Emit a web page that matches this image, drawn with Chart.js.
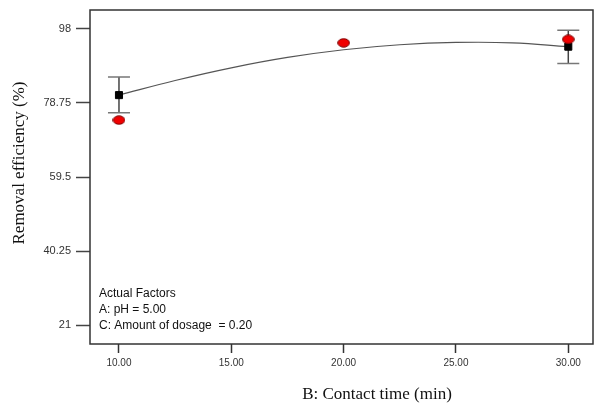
<!DOCTYPE html>
<html lang="en">
<head>
  <meta charset="UTF-8">
  <title>Removal efficiency vs contact time</title>
  <script src="https://cdn.jsdelivr.net/npm/chart.js"></script>
  <style>
    html, body { margin: 0; padding: 0; background: #fff; }
    #wrap { width: 594px; height: 404px; position: relative; }
  </style>
</head>
<body>
  <div id="wrap"><canvas id="chart" width="594" height="404"></canvas></div>
  <script>
    // fitted curve, every 2.5 min
    const curveX = [10, 12.5, 15, 17.5, 20, 22.5, 25, 27.5, 30];
    const curveY = [80.8, 84.6, 87.9, 90.6, 92.6, 93.9, 94.5, 94.4, 93.4];
    // predicted design points with LSD bars
    const predX = [10, 30];
    const predY = [80.8, 93.4];
    const barLow = [76.2, 89.0];
    const barHigh = [85.5, 97.7];
    // actual observations
    const actualX = [10, 20, 30];
    const actualY = [74.3, 94.4, 95.3];
    const yTicks = [21, 40.25, 59.5, 78.75, 98];
    const xTicks = [10, 15, 20, 25, 30];
    const factorLines = ['Actual Factors', 'A: pH = 5.00', 'C: Amount of dosage  = 0.20'];

    const pts = (xs, ys) => xs.map((x, i) => ({ x: x, y: ys[i] }));

    // flattened red dot like the original
    const dot = document.createElement('canvas');
    dot.width = 13; dot.height = 10;
    (function () {
      const c = dot.getContext('2d');
      c.fillStyle = '#f00000';
      c.strokeStyle = '#700';
      c.lineWidth = 1;
      c.beginPath();
      c.ellipse(6.5, 5, 5.8, 4.2, 0, 0, Math.PI * 2);
      c.fill();
      c.stroke();
    })();

    const extras = {
      id: 'extras',
      beforeDatasetsDraw(chart) {
        const { ctx, scales: { x, y } } = chart;
        ctx.save();
        predX.forEach((v, i) => {
          const px = x.getPixelForValue(v);
          const top = y.getPixelForValue(barHigh[i]);
          const bot = y.getPixelForValue(barLow[i]);
          ctx.strokeStyle = '#444';
          ctx.lineWidth = 1.5;
          ctx.beginPath();
          ctx.moveTo(px, top); ctx.lineTo(px, bot);
          ctx.stroke();
          ctx.strokeStyle = '#777';
          ctx.beginPath();
          ctx.moveTo(px - 11, top); ctx.lineTo(px + 11, top);
          ctx.moveTo(px - 11, bot); ctx.lineTo(px + 11, bot);
          ctx.stroke();
        });
        ctx.restore();
      },
      afterDraw(chart) {
        const { ctx, chartArea: a } = chart;
        ctx.save();
        ctx.strokeStyle = '#333';
        ctx.lineWidth = 1.5;
        ctx.strokeRect(a.left, a.top, a.right - a.left, a.bottom - a.top);

        ctx.fillStyle = '#111';
        ctx.font = '12px "Liberation Sans", Arial, sans-serif';
        ctx.textBaseline = 'middle';
        factorLines.forEach((t, i) => ctx.fillText(t, 99, 294 + i * 16));

        ctx.font = '17px "Liberation Serif", "Times New Roman", serif';
        ctx.textAlign = 'center';
        ctx.fillText('B: Contact time (min)', 377, 395);
        ctx.translate(20, 163);
        ctx.rotate(-Math.PI / 2);
        ctx.fillText('Removal efficiency (%)', 0, 0);
        ctx.restore();
      }
    };

    new Chart(document.getElementById('chart'), {
      type: 'scatter',
      data: {
        datasets: [
          {
            type: 'line',
            data: pts(curveX, curveY),
            borderColor: '#555',
            borderWidth: 1.2,
            pointRadius: 0,
            tension: 0.4,
            fill: false,
            order: 3
          },
          {
            data: pts(predX, predY),
            pointStyle: 'rect',
            pointRadius: 5,
            backgroundColor: '#000',
            borderColor: '#000',
            order: 2
          },
          {
            data: pts(actualX, actualY),
            pointStyle: dot,
            pointRadius: 5,
            order: 1
          }
        ]
      },
      options: {
        responsive: false,
        animation: false,
        layout: { autoPadding: false, padding: { top: 10, right: 1, left: 0, bottom: 0 } },
        plugins: { legend: { display: false }, tooltip: { enabled: false } },
        scales: {
          x: {
            type: 'linear',
            min: 8.71,
            max: 31.1,
            afterFit(s) { s.height = 60; s.paddingLeft = 0; s.paddingRight = 0; },
            afterBuildTicks(s) { s.ticks = xTicks.map(v => ({ value: v })); },
            grid: { drawOnChartArea: false, tickLength: 9, color: '#333', tickWidth: 1.5 },
            border: { display: false },
            ticks: {
              color: '#333',
              padding: 4,
              maxRotation: 0,
              font: { family: '"Liberation Sans", Arial, sans-serif', size: 10 },
              callback: v => v.toFixed(2)
            }
          },
          y: {
            min: 16.06,
            max: 102.94,
            afterFit(s) { s.width = 90; s.paddingTop = 0; s.paddingBottom = 0; },
            afterBuildTicks(s) { s.ticks = yTicks.map(v => ({ value: v })); },
            grid: { drawOnChartArea: false, tickLength: 14, color: '#444', tickWidth: 1.5 },
            border: { display: false },
            ticks: {
              color: '#333',
              padding: 5,
              font: { family: '"Liberation Sans", Arial, sans-serif', size: 11 },
              callback: v => String(v)
            }
          }
        }
      },
      plugins: [extras]
    });
  </script>
</body>
</html>
